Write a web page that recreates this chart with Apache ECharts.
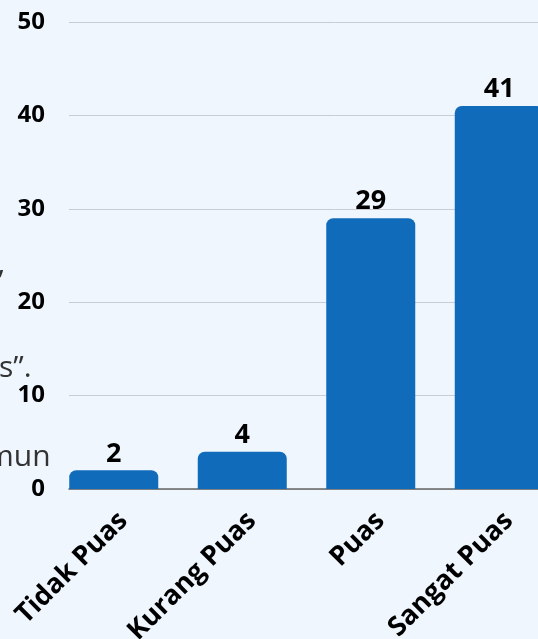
<!DOCTYPE html>
<html>
<head>
<meta charset="utf-8">
<script src="https://cdn.jsdelivr.net/npm/echarts@6/dist/echarts.min.js"></script>
<style>
html,body{margin:0;padding:0;background:#eff6fe;overflow:hidden;}
#c{width:600px;height:639px;}
</style>
</head>
<body>
<div id="c"></div>
<script>
var categories = ['Tidak Puas', 'Kurang Puas', 'Puas', 'Sangat Puas'];
var values = [2, 4, 29, 41];
var yTicks = [0, 10, 20, 30, 40, 50];
var bgFragments = ['”', 's”.', 'mun'];

var chart = echarts.init(document.getElementById('c'), null, {renderer: 'canvas'});
var font = '"Open Sans", "Noto Sans", sans-serif';
chart.setOption({
  backgroundColor: '#eff6fe',
  animation: false,
  graphic: [
    {type: 'text', x: -7, y: 267, z: 0, style: {text: bgFragments[0], font: '30px ' + font, fill: '#333'}},
    {type: 'text', x: -1, y: 353, z: 0, style: {text: bgFragments[1], font: '30px ' + font, fill: '#333'}},
    {type: 'text', x: -14, y: 442, z: 0, style: {text: bgFragments[2], font: '30px ' + font, fill: '#333'}}
  ],
  grid: [
    {left: 69, width: 531, top: 22, bottom: 150, outerBoundsMode: 'none', containLabel: false},
    {left: 49.5, width: 514, top: 22, bottom: 150, outerBoundsMode: 'none', containLabel: false}
  ],
  xAxis: [
    {type: 'category', gridIndex: 0, data: categories, boundaryGap: true,
     axisLine: {show: true, lineStyle: {color: '#666', width: 1.5}},
     axisTick: {show: false}, axisLabel: {show: false}, splitLine: {show: false}},
    {type: 'category', gridIndex: 1, data: categories,
     axisLine: {show: false}, axisTick: {show: false},
     axisLabel: {rotate: 45, margin: 18, verticalAlign: 'top', color: '#000', fontWeight: 'bold', fontSize: 27, fontFamily: font, interval: 0}}
  ],
  yAxis: [
    {type: 'value', gridIndex: 0, min: 0, max: 50, interval: 10,
     axisLine: {show: false}, axisTick: {show: false},
     axisLabel: {margin: 24, color: '#000', fontWeight: 'bold', fontSize: 24, fontFamily: font, padding: [3, 0, 0, 0],
       formatter: function(v){ return yTicks.indexOf(v) >= 0 ? String(v) : ''; }},
     splitLine: {lineStyle: {color: '#c8cdd4', width: 1}}},
    {type: 'value', gridIndex: 1, min: 0, max: 50, interval: 10, show: false}
  ],
  series: [{
    type: 'bar', xAxisIndex: 1, yAxisIndex: 1, data: values, barWidth: 89,
    itemStyle: {color: '#106bba', borderRadius: [7, 7, 0, 0]},
    label: {show: true, position: 'top', distance: 3, color: '#000', fontWeight: 'bold', fontSize: 27, fontFamily: font}
  }]
});
</script>
</body>
</html>
